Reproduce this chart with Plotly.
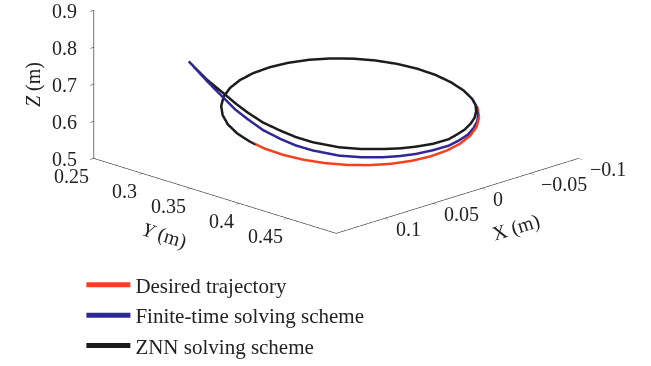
import plotly.graph_objects as go

# ---- data (metres) ----
desired_x = [-0.0609, -0.0509, -0.0393, -0.0266, -0.0130, 0.0009, 0.0148, 0.0283, 0.0409, 0.0523,
             0.0620, 0.0699, 0.0757, 0.0792, 0.0802, 0.0789, 0.0751, 0.0690, 0.0609, 0.0509,
             0.0393, 0.0266, 0.0130, -0.0009, -0.0148, -0.0283, -0.0409, -0.0523, -0.0620, -0.0699,
             -0.0757, -0.0792, -0.0802, -0.0789, -0.0751, -0.0690, -0.0609]
desired_y = [0.4365, 0.4440, 0.4491, 0.4515, 0.4513, 0.4485, 0.4431, 0.4354, 0.4254, 0.4136,
             0.4004, 0.3860, 0.3710, 0.3557, 0.3408, 0.3265, 0.3134, 0.3019, 0.2923, 0.2848,
             0.2797, 0.2773, 0.2775, 0.2803, 0.2857, 0.2934, 0.3034, 0.3152, 0.3284, 0.3428,
             0.3578, 0.3731, 0.3880, 0.4023, 0.4154, 0.4269, 0.4365]
desired_z = [0.5902, 0.5797, 0.5696, 0.5605, 0.5524, 0.5457, 0.5405, 0.5371, 0.5355, 0.5357,
             0.5378, 0.5417, 0.5473, 0.5544, 0.5628, 0.5723, 0.5824, 0.5931, 0.6038, 0.6143,
             0.6244, 0.6335, 0.6416, 0.6483, 0.6535, 0.6569, 0.6585, 0.6583, 0.6562, 0.6523,
             0.6467, 0.6396, 0.6312, 0.6217, 0.6116, 0.6009, 0.5902]

finite_x = [0.1010, 0.1033, 0.1047, 0.1046, 0.1021, 0.0993, 0.0936, 0.0872, 0.0786, 0.0647,
            0.0511, 0.0363, 0.0239, 0.0119, -0.0025, -0.0159, -0.0281, -0.0386, -0.0481, -0.0565,
            -0.0634, -0.0690, -0.0751, -0.0789, -0.0802, -0.0792, -0.0757, -0.0699, -0.0620, -0.0523,
            -0.0409, -0.0283, -0.0148, -0.0009, 0.0130, 0.0266, 0.0393, 0.0509, 0.0609, 0.0690,
            0.0751, 0.0789, 0.0802, 0.0798]
finite_y = [0.2990, 0.3189, 0.3383, 0.3505, 0.3608, 0.3735, 0.3860, 0.3958, 0.4046, 0.4178,
            0.4264, 0.4347, 0.4396, 0.4437, 0.4475, 0.4499, 0.4492, 0.4475, 0.4438, 0.4390,
            0.4331, 0.4269, 0.4154, 0.4023, 0.3880, 0.3731, 0.3578, 0.3428, 0.3284, 0.3152,
            0.3034, 0.2934, 0.2857, 0.2803, 0.2775, 0.2773, 0.2797, 0.2848, 0.2923, 0.3019,
            0.3134, 0.3265, 0.3408, 0.3468]
finite_z = [0.7620, 0.7300, 0.6988, 0.6766, 0.6569, 0.6360, 0.6170, 0.6019, 0.5887, 0.5742,
            0.5660, 0.5606, 0.5577, 0.5568, 0.5586, 0.5615, 0.5665, 0.5720, 0.5790, 0.5861,
            0.5938, 0.6009, 0.6116, 0.6217, 0.6312, 0.6396, 0.6467, 0.6523, 0.6562, 0.6583,
            0.6585, 0.6569, 0.6535, 0.6483, 0.6416, 0.6335, 0.6244, 0.6143, 0.6038, 0.5931,
            0.5824, 0.5723, 0.5628, 0.5594]

znn_x = [0.1010, 0.1023, 0.1008, 0.0995, 0.0971, 0.0935, 0.0870, 0.0805, 0.0721, 0.0581,
         0.0446, 0.0298, 0.0179, 0.0063, -0.0076, -0.0212, -0.0317, -0.0406, -0.0502, -0.0577,
         -0.0652, -0.0710, -0.0751, -0.0789, -0.0802, -0.0792, -0.0757, -0.0699, -0.0620, -0.0523,
         -0.0409, -0.0283, -0.0148, -0.0009, 0.0130, 0.0266, 0.0393, 0.0509, 0.0609, 0.0690,
         0.0751, 0.0789, 0.0802, 0.0798]
znn_y = [0.2990, 0.3180, 0.3360, 0.3465, 0.3558, 0.3678, 0.3794, 0.3891, 0.3981, 0.4111,
         0.4199, 0.4282, 0.4336, 0.4381, 0.4424, 0.4447, 0.4435, 0.4421, 0.4387, 0.4350,
         0.4292, 0.4228, 0.4154, 0.4023, 0.3880, 0.3731, 0.3578, 0.3428, 0.3284, 0.3152,
         0.3034, 0.2934, 0.2857, 0.2803, 0.2775, 0.2773, 0.2797, 0.2848, 0.2923, 0.3019,
         0.3134, 0.3265, 0.3408, 0.3468]
znn_z = [0.7620, 0.7311, 0.7025, 0.6839, 0.6667, 0.6467, 0.6287, 0.6137, 0.6003, 0.5860,
         0.5776, 0.5722, 0.5687, 0.5674, 0.5676, 0.5706, 0.5749, 0.5793, 0.5852, 0.5907,
         0.5978, 0.6046, 0.6116, 0.6217, 0.6312, 0.6396, 0.6467, 0.6523, 0.6562, 0.6583,
         0.6585, 0.6569, 0.6535, 0.6483, 0.6416, 0.6335, 0.6244, 0.6143, 0.6038, 0.5931,
         0.5824, 0.5723, 0.5628, 0.5594]

x_range = [-0.1, 0.15]
y_range = [0.25, 0.5]
z_range = [0.5, 0.9]
x_ticks = [-0.1, -0.05, 0, 0.05, 0.1]
y_ticks = [0.25, 0.3, 0.35, 0.4, 0.45]
z_ticks = [0.5, 0.6, 0.7, 0.8, 0.9]
x_labels = ["\u22120.1", "\u22120.05", "0", "0.05", "0.1"]
y_labels = ["0.25", "0.3", "0.35", "0.4", "0.45"]
z_labels = ["0.5", "0.6", "0.7", "0.8", "0.9"]

series = [
    ("Desired trajectory", desired_x, desired_y, desired_z, "#f5401f"),
    ("Finite-time solving scheme", finite_x, finite_y, finite_z, "#2e2896"),
    ("ZNN solving scheme", znn_x, znn_y, znn_z, "#1c1c1c"),
]

FONT = "Liberation Serif"
TXT = "#222"
FS = 20

fig = go.Figure()
for i, (name, xs, ys, zs, col) in enumerate(series):
    fig.add_trace(go.Scatter3d(x=xs, y=ys, z=zs, mode="lines", name=name,
                               legendgroup=f"g{i}",
                               line=dict(color=col, width=5), hoverinfo="skip"))

def ax(rng, tv):
    return dict(title=dict(text=""), range=rng, tickvals=tv, autorange=False,
                showticklabels=False,
                showbackground=False, showgrid=False, zeroline=False,
                showline=True, linecolor=TXT, linewidth=1.2,
                ticks="outside", ticklen=5, tickcolor=TXT,
                showspikes=False)

# tick labels drawn as horizontal scene annotations at the tick values
ann = []
xe, ye, ze = x_range[1], y_range[1], z_range[0]   # front edges carrying the labels
yl = y_range[0]
for v, t in zip(z_ticks, z_labels):
    ann.append(dict(x=xe, y=yl, z=v, text=t, xanchor="right", yanchor="middle", xshift=-15, yshift=-1))
for v, t in zip(y_ticks, y_labels):
    ann.append(dict(x=xe, y=v, z=ze, text=t, xanchor="right", yanchor="top", xshift=-3, yshift=-5))
for v, t in zip(x_ticks, x_labels):
    ann.append(dict(x=v, y=ye, z=ze, text=t, xanchor="left", yanchor="middle", xshift=9, yshift=-11))
# axis titles
ann.append(dict(x=xe, y=yl, z=0.7, text="<i>Z</i> (m)", textangle=-90, xshift=-60, yshift=0))
ann.append(dict(x=xe, y=0.35, z=ze, text="<i>Y</i> (m)", textangle=17, xshift=-26, yshift=-47))
ann.append(dict(x=-0.025, y=ye, z=ze, text="X (m)", textangle=-17, xshift=10, yshift=-47))
for a in ann:
    a.update(showarrow=False, font=dict(family=FONT, size=FS, color=TXT))

cx, cy, cz = 0.046, -0.046, -0.511
d = 2.0
dirx, diry, dirz = 0.6713, 0.6713, 0.3088

fig.update_layout(
    width=651, height=366,
    margin=dict(l=0, r=0, t=0, b=0),
    paper_bgcolor="white",
    font=dict(family=FONT, size=FS, color=TXT),
    scene=dict(
        domain=dict(x=[0, 1], y=[0, 1]),
        xaxis=ax(x_range, x_ticks),
        yaxis=ax(y_range, y_ticks),
        zaxis=ax(z_range, z_ticks),
        aspectmode="manual",
        aspectratio=dict(x=2.09, y=2.09, z=0.95),
        camera=dict(eye=dict(x=cx + d * dirx, y=cy + d * diry, z=cz + d * dirz),
                    center=dict(x=cx, y=cy, z=cz),
                    up=dict(x=0, y=0, z=1),
                    projection=dict(type="orthographic")),
        annotations=ann,
    ),
    showlegend=True,
    legend=dict(x=0.125, y=0.193, xanchor="left", yanchor="top",
                traceorder="grouped", tracegroupgap=0,
                font=dict(family=FONT, size=21, color=TXT),
                bgcolor="rgba(0,0,0,0)", itemwidth=44),
)

fig.write_html("out.html")
